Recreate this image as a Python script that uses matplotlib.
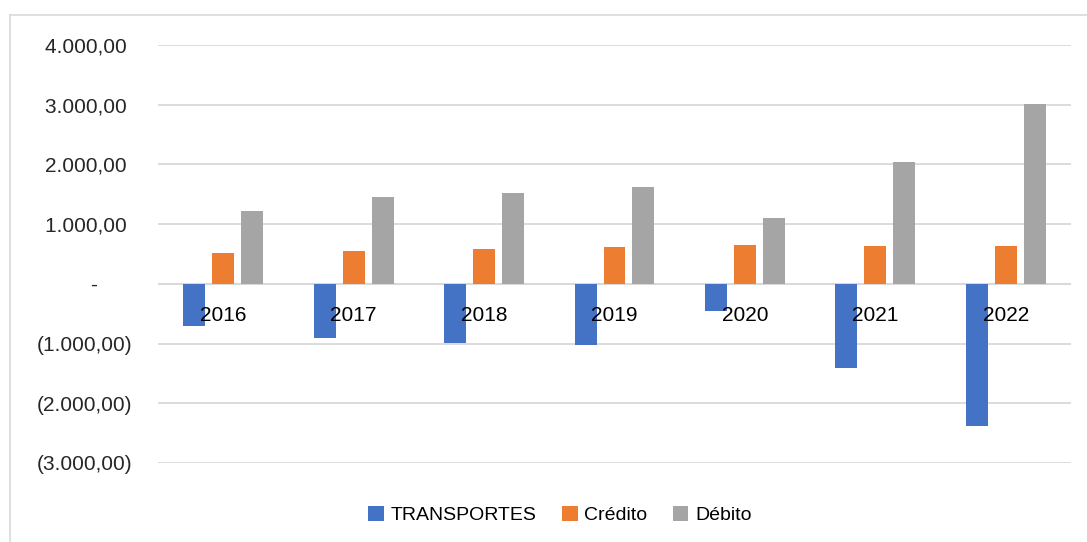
import matplotlib
matplotlib.use('Agg')
import matplotlib.pyplot as plt
import matplotlib.transforms as mtransforms
from matplotlib.lines import Line2D
from matplotlib.patches import Patch
import numpy as np

# Datos
anos = ['2016', '2017', '2018', '2019', '2020', '2021', '2022']
transportes = [-710, -911, -983, -1017, -447, -1413, -2385]
credito = [524, 557, 591, 625, 659, 626, 626]
debito = [1228, 1462, 1529, 1630, 1095, 2034, 3006]

series = ['TRANSPORTES', 'Crédito', 'Débito']
colores = ['#4472C4', '#ED7D31', '#A5A5A5']

yticks = [-3000, -2000, -1000, 0, 1000, 2000, 3000, 4000]

plt.rcParams['font.family'] = ['Liberation Sans', 'DejaVu Sans']

W, H = 1087, 542
fig = plt.figure(figsize=(W / 100, H / 100), dpi=100)
ax = fig.add_axes([158 / W, 1 - 463 / H, (1071 - 158) / W, (463 - 45) / H])

x = np.arange(len(anos))
ancho = 0.168
paso = 0.222
for i, (vals, col) in enumerate(zip([transportes, credito, debito], colores)):
    ax.bar(x + (i - 1) * paso, vals, ancho, color=col, zorder=2)

ax.set_xlim(-0.5, len(anos) - 0.5)
ax.set_ylim(-3000, 4000)


def fmt(v):
    if v == 0:
        return '-      '
    s = f'{abs(v):,.2f}'.replace(',', 'X').replace('.', ',').replace('X', '.')
    return f'({s})' if v < 0 else s + ' '


ax.set_yticks(yticks)
ax.set_yticklabels([fmt(v) for v in yticks], fontsize=15, color='#262626')
ax.tick_params(axis='y', length=0, pad=18.5)
ax.set_xticks([])
ax.grid(axis='y', color='#D9D9D9', linewidth=1.3, zorder=0)
ax.set_axisbelow(True)
for s in ax.spines.values():
    s.set_visible(False)
ax.axhline(0, color='#D9D9D9', linewidth=1.5, zorder=1)

# Etiquetas de año junto al eje cero
trans = mtransforms.offset_copy(ax.transData, fig=fig, x=0, y=-32, units='dots')
for xi, a in zip(x, anos):
    ax.text(xi, 0, a, transform=trans, ha='center', va='center',
            fontsize=15, color='black', zorder=5)

# Leyenda
handles = [Patch(facecolor=c, edgecolor='none') for c in colores]
fig.legend(handles, series, loc='center', bbox_to_anchor=(560 / W, 1 - 515 / H),
           ncol=3, frameon=False, fontsize=14, handlelength=0.8, handleheight=0.8,
           handletextpad=0.35, columnspacing=1.3)

# Borde del área del gráfico
fig.add_artist(Line2D([10 / W, 1], [1 - 15 / H, 1 - 15 / H], transform=fig.transFigure,
                      color='#D9D9D9', linewidth=1.2))
fig.add_artist(Line2D([10 / W, 10 / W], [0, 1 - 15 / H], transform=fig.transFigure,
                      color='#D9D9D9', linewidth=1.2))

fig.savefig('out.png', dpi=100)
